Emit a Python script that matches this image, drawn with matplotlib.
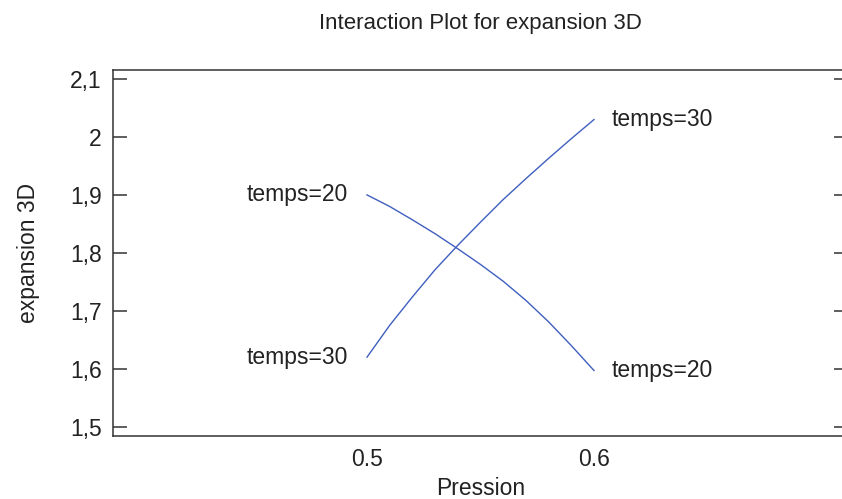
import matplotlib.pyplot as plt
from matplotlib.ticker import FuncFormatter

# Valores
pression = [0.5, 0.51, 0.52, 0.53, 0.54, 0.55, 0.56, 0.57, 0.58, 0.59, 0.6]
temps_20 = [1.900, 1.880, 1.857, 1.833, 1.807, 1.780, 1.751, 1.718, 1.681,
            1.640, 1.597]
temps_30 = [1.620, 1.675, 1.724, 1.771, 1.813, 1.853, 1.892, 1.928, 1.963,
            1.997, 2.030]
y_ticks = [1.5, 1.6, 1.7, 1.8, 1.9, 2.0, 2.1]
x_ticks = [0.5, 0.6]

plt.rcParams['font.family'] = ['Liberation Sans', 'DejaVu Sans']
txt_color = '#222222'
line_color = '#3f5fbf'

fig = plt.figure(figsize=(8.42, 4.99), dpi=100)
# el eje derecho queda un poco fuera de la imagen, como en el original
ax = fig.add_axes([113 / 842, 63 / 499, 735 / 842, 366 / 499])

ax.plot(pression, temps_20, color=line_color, lw=1)
ax.plot(pression, temps_30, color=line_color, lw=1)

# etiquetas en los extremos de cada linea
for serie, nombre in [(temps_20, 'temps=20'), (temps_30, 'temps=30')]:
    ax.annotate(nombre, (pression[0], serie[0]), xytext=(-14, 0),
                textcoords='offset points', ha='right', va='center',
                fontsize=16.5, color=txt_color)
    ax.annotate(nombre, (pression[-1], serie[-1]), xytext=(12.5, 0),
                textcoords='offset points', ha='left', va='center',
                fontsize=16.5, color=txt_color)

ax.set_xlim(0.3881, 0.7119)
ax.set_ylim(1.484, 2.1155)
ax.set_xticks(x_ticks)
ax.set_yticks(y_ticks)
ax.yaxis.set_major_formatter(
    FuncFormatter(lambda v, p: f'{v:g}'.replace('.', ',')))
ax.xaxis.set_major_formatter(FuncFormatter(lambda v, p: f'{v:.1f}'))

ax.tick_params(axis='y', direction='in', length=10, width=1.1,
               color='#333333', left=True, right=True, pad=8,
               labelsize=16.5, labelcolor=txt_color)
ax.tick_params(axis='x', length=0, pad=9, labelsize=16.5,
               labelcolor=txt_color)

for s in ax.spines.values():
    s.set_color('#333333')
    s.set_linewidth(1.1)
ax.spines['right'].set_visible(False)

ax.set_xlabel('Pression', fontsize=16.5, color=txt_color, labelpad=4)
ax.set_ylabel('expansion 3D', fontsize=16.5, color=txt_color, labelpad=22)
fig.text(480 / 842, 1 - 23 / 499, 'Interaction Plot for expansion 3D',
         ha='center', va='center', fontsize=16, color=txt_color)

fig.savefig('out.png', dpi=100)
